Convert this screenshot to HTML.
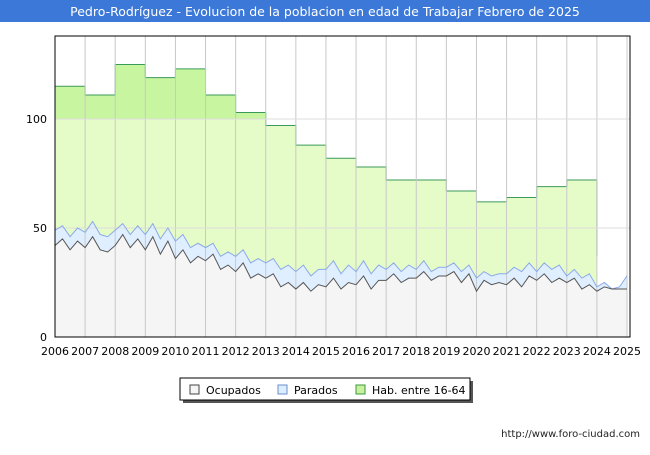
<!DOCTYPE html>
<html><head><meta charset="utf-8"><style>
body{margin:0;background:#fff;font-family:"Liberation Sans",sans-serif}
svg text{font-family:"DejaVu Sans","Liberation Sans",sans-serif}
</style></head><body>
<svg id="c" width="650" height="450" xmlns="http://www.w3.org/2000/svg">
<rect x="0" y="0" width="650" height="450" fill="#fff"/>
<rect x="0" y="0" width="650" height="22" fill="#3b78d8"/>
<text x="325" y="16" text-anchor="middle" font-size="12.5" fill="#fff">Pedro-Rodríguez - Evolucion de la poblacion en edad de Trabajar Febrero de 2025</text>
<g id="plot"></g>
<g>
<rect x="183" y="381" width="290" height="22" fill="#555"/>
<rect x="180" y="378" width="290" height="22" fill="#fff" stroke="#000" stroke-width="1"/>
<rect x="190" y="385" width="9" height="9" fill="#f5f5f5" stroke="#444"/>
<text x="206" y="394" font-size="11">Ocupados</text>
<rect x="278" y="385" width="9" height="9" fill="#ddeeff" stroke="#6a8fd0"/>
<text x="294" y="394" font-size="11">Parados</text>
<rect x="356" y="385" width="9" height="9" fill="#c8f0a0" stroke="#3a9a3a"/>
<text x="372" y="394" font-size="11">Hab. entre 16-64</text>
</g>
<text x="640" y="437" text-anchor="end" font-size="10" fill="#222">http://www.foro-ciudad.com</text>
</svg>
<script>
const years=[2006,2007,2008,2009,2010,2011,2012,2013,2014,2015,2016,2017,2018,2019,2020,2021,2022,2023,2024,2025];
const yTicks=[0,50,100];
const habYears=[2006,2007,2008,2009,2010,2011,2012,2013,2014,2015,2016,2017,2018,2019,2020,2021,2022,2023];
const habValues=[115,111,125,119,123,111,103,97,88,82,78,72,72,67,62,64,69,72];
const habEnd=37;
const ocupados=[42,45,40,44,41,46,40,39,42,47,41,45,40,46,38,44,36,40,34,37,35,38,31,33,30,34,27,29,27,29,23,25,22,25,21,24,23,27,22,25,24,28,22,26,26,29,25,27,27,30,26,28,28,30,25,29,21,26,24,25,24,27,23,28,26,29,25,27,25,27,22,24,21,23,22,22,22];
const total=[49,51,46,50,48,53,47,46,49,52,47,51,47,52,45,50,44,47,41,43,41,43,37,39,37,40,34,36,34,36,31,33,30,33,28,31,31,35,29,33,30,35,29,33,31,34,30,33,31,35,30,32,32,34,30,33,27,30,28,29,29,32,30,34,30,34,31,33,28,31,27,29,23,25,22,23,28];
const X0=55,X1=630,Y0=36,Y1=337;
const x=t=>X0+(t-2006)*(627-55)/19;
const y=v=>Y1-v*(Y1-119)/100;
const g=document.getElementById('plot');
const NS='http://www.w3.org/2000/svg';
function mk(tag,a){const e=document.createElementNS(NS,tag);for(const k in a)e.setAttribute(k,a[k]);g.appendChild(e);return e;}
mk('rect',{x:X0,y:Y0,width:X1-X0,height:Y1-Y0,fill:'#fff'});
// hab area
let d='M'+x(2006)+','+y(0);
habYears.forEach((yr,i)=>{d+=' L'+x(yr)+','+y(habValues[i])+' L'+x(yr+1)+','+y(habValues[i]);});
d+=' L'+x(2024)+','+y(habEnd)+' L'+x(2024)+','+y(0)+' Z';
let e=mk('path',{d:d,fill:'#e6fcc8'});


// stronger green top band
let d2='M'+x(2006)+','+y(100);
habYears.forEach((yr,i)=>{d2+=' L'+x(yr)+','+y(Math.max(100,habValues[i]))+' L'+x(yr+1)+','+y(Math.max(100,habValues[i]));});
d2+=' L'+x(2024)+','+y(100)+' Z';
mk('path',{d:d2,fill:'#c8f5a0'});
let dl='M'+x(2006)+','+y(habValues[0]);
habYears.forEach((yr,i)=>{dl+=' L'+x(yr)+','+y(habValues[i])+' L'+x(yr+1)+','+y(habValues[i]);});
dl+=' L'+x(2024)+','+y(habEnd);
e=mk('path',{d:dl,fill:'none',stroke:'#3a9a5a','stroke-width':1});


const tq=i=>2006+i*0.25;
let dt='M'+x(tq(0))+','+y(0);
total.forEach((v,i)=>dt+=' L'+x(tq(i))+','+y(v));
dt+=' L'+x(tq(total.length-1))+','+y(0)+' Z';
e=mk('path',{d:dt,fill:'#e0efff'});


let dol='M'+x(tq(0))+','+y(0);
ocupados.forEach((v,i)=>dol+=' L'+x(tq(i))+','+y(v));
dol+=' L'+x(tq(ocupados.length-1))+','+y(0)+' Z';
e=mk('path',{d:dol,fill:'#f5f5f5'});


// grid
years.forEach(yr=>{if(yr>2006)mk('line',{x1:x(yr),x2:x(yr),y1:Y0,y2:Y1,stroke:'#c8c8c8','stroke-width':1});});
yTicks.forEach(v=>{if(v>0)mk('line',{x1:X0,x2:X1,y1:y(v),y2:y(v),stroke:'#dddddd','stroke-width':1});});
e=mk('polyline',{points:total.map((v,i)=>x(tq(i))+','+y(v)).join(' '),fill:'none',stroke:'#8aaae8','stroke-width':1});


e=mk('polyline',{points:ocupados.map((v,i)=>x(tq(i))+','+y(v)).join(' '),fill:'none',stroke:'#555','stroke-width':1});


mk('rect',{x:X0,y:Y0,width:X1-X0,height:Y1-Y0,fill:'none',stroke:'#000','stroke-width':1});
yTicks.forEach(v=>{const t=mk('text',{x:47,y:y(v)+4,'text-anchor':'end','font-size':11});t.textContent=v;

});
years.forEach(yr=>{const t=mk('text',{x:x(yr),y:355,'text-anchor':'middle','font-size':11});t.textContent=yr;

});
</script>
</body></html>
